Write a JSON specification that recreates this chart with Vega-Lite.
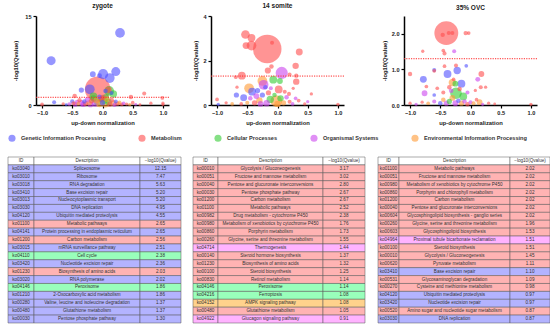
{
"$schema":"https://vega.github.io/schema/vega-lite/v6.json",
"padding":{"left":5,"right":3,"top":2,"bottom":1},
"config":{"font":"Liberation Sans","view":{"stroke":null},
"axis":{"grid":false,"labelOverlap":false,"domainColor":"#000","domainWidth":1.5,"tickColor":"#000","tickWidth":1.2,"tickSize":3,"labelFontSize":5.6,"labelFontWeight":"bold","labelColor":"#222","labelPadding":2,"titleFontSize":5.8,"titleFontWeight":"bold","titleColor":"#222","titlePadding":4},
"title":{"fontSize":6.5,"fontWeight":"bold","offset":5,"color":"#222"},
"legend":{"orient":"none","legendX":0,"legendY":118,"direction":"horizontal","columns":5,"columnPadding":32,"labelFontSize":5.6,"labelFontWeight":"bold","labelColor":"#333","symbolSize":50,"symbolOpacity":0.6,"symbolType":"circle","symbolStrokeWidth":0,"labelOffset":5}},
"datasets":{
"zyg":[
{"x":0.29,"y":12.15,"c":"G","n":70},{"x":-0.85,"y":7.47,"c":"G","n":60},{"x":0.22,"y":5.63,"c":"G","n":60},{"x":0.01,"y":5.2,"c":"G","n":75},{"x":-0.16,"y":5.2,"c":"G","n":25},{"x":-0.05,"y":4.95,"c":"G","n":18},{"x":0.12,"y":4.55,"c":"G","n":70},{"x":-0.08,"y":2.65,"c":"M","n":480},{"x":-0.21,"y":2.65,"c":"G","n":70},{"x":0.1,"y":2.56,"c":"M","n":30},{"x":-0.35,"y":2.51,"c":"G","n":20},{"x":0.11,"y":2.38,"c":"C","n":70},{"x":0.05,"y":2.36,"c":"G","n":15},{"x":0.69,"y":1.95,"c":"M","n":12},{"x":0.15,"y":2.02,"c":"G","n":12},{"x":0.18,"y":1.86,"c":"C","n":40},{"x":-0.46,"y":1.5,"c":"M","n":15},{"x":0.47,"y":1.35,"c":"M","n":14},{"x":0.99,"y":1.2,"c":"M","n":10},{"x":-0.05,"y":1.37,"c":"G","n":15},{"x":0.0,"y":1.3,"c":"M","n":20},{"x":-0.15,"y":1.46,"c":"C","n":45},{"x":0.05,"y":1.2,"c":"C","n":40},
{"x":-1.0,"y":0.1,"c":"M","n":10},{"x":-0.8,"y":0.45,"c":"G","n":12},{"x":-0.55,"y":0.15,"c":"O","n":10},{"x":-0.5,"y":0.6,"c":"G","n":14},{"x":-0.48,"y":0.3,"c":"M","n":12},{"x":-0.45,"y":0.1,"c":"O","n":18},{"x":-0.42,"y":0.5,"c":"O","n":15},{"x":-0.4,"y":0.2,"c":"E","n":12},{"x":-0.38,"y":0.8,"c":"M","n":14},{"x":-0.35,"y":0.35,"c":"O","n":25},{"x":-0.32,"y":0.1,"c":"O","n":20},{"x":-0.3,"y":0.6,"c":"G","n":15},{"x":-0.28,"y":0.2,"c":"M","n":18},{"x":-0.25,"y":0.9,"c":"O","n":20},{"x":-0.22,"y":0.4,"c":"E","n":22},{"x":-0.2,"y":0.1,"c":"O","n":25},{"x":-0.18,"y":0.7,"c":"M","n":20},{"x":-0.15,"y":1.1,"c":"C","n":30},{"x":-0.12,"y":0.3,"c":"O","n":35},{"x":-0.1,"y":0.8,"c":"E","n":25},{"x":-0.08,"y":0.5,"c":"C","n":40},{"x":-0.05,"y":0.15,"c":"E","n":30},{"x":-0.02,"y":1.0,"c":"M","n":25},{"x":0.0,"y":0.4,"c":"G","n":20},{"x":0.02,"y":0.7,"c":"C","n":35},{"x":0.05,"y":0.2,"c":"E","n":40},{"x":0.07,"y":1.0,"c":"E","n":25},{"x":0.1,"y":0.5,"c":"C","n":30},{"x":0.12,"y":0.15,"c":"M","n":20},{"x":0.15,"y":0.8,"c":"M","n":18},{"x":0.18,"y":0.3,"c":"E","n":25},{"x":0.2,"y":0.05,"c":"O","n":15},{"x":0.22,"y":0.6,"c":"G","n":12},{"x":0.25,"y":0.2,"c":"M","n":15},{"x":0.28,"y":0.4,"c":"E","n":12},{"x":0.32,"y":0.1,"c":"M","n":10},{"x":0.35,"y":0.3,"c":"O","n":10},{"x":0.4,"y":0.15,"c":"M","n":8},{"x":0.45,"y":0.05,"c":"E","n":8},{"x":0.5,"y":0.4,"c":"M","n":10},{"x":0.55,"y":0.1,"c":"O","n":6},{"x":0.62,"y":0.05,"c":"M","n":6},{"x":0.8,"y":0.3,"c":"M","n":8},{"x":1.0,"y":0.3,"c":"M","n":8},{"x":1.0,"y":0.05,"c":"M","n":6},{"x":-0.6,"y":0.05,"c":"G","n":6},{"x":-0.65,"y":0.2,"c":"M","n":8}
],
"som":[
{"x":-0.53,"y":3.17,"c":"M","n":55},{"x":-0.43,"y":3.02,"c":"M","n":45},{"x":-0.52,"y":2.67,"c":"M","n":35},{"x":-0.43,"y":2.67,"c":"M","n":70},{"x":-0.09,"y":2.8,"c":"M","n":12},{"x":-0.17,"y":2.52,"c":"M","n":600},{"x":0.36,"y":2.38,"c":"M","n":35},{"x":0.3,"y":1.76,"c":"M","n":30},{"x":-0.1,"y":1.73,"c":"M","n":15},{"x":-0.16,"y":1.55,"c":"M","n":28},{"x":0.07,"y":1.44,"c":"O","n":110},{"x":0.2,"y":1.37,"c":"M","n":12},{"x":0.31,"y":1.32,"c":"M","n":14},{"x":-0.59,"y":1.32,"c":"M","n":45},{"x":-0.69,"y":1.25,"c":"M","n":10},{"x":-0.07,"y":1.14,"c":"C","n":45},{"x":0.04,"y":1.08,"c":"C","n":25},{"x":-0.25,"y":1.08,"c":"E","n":70},{"x":0.31,"y":1.05,"c":"M","n":30},{"x":-0.23,"y":0.91,"c":"O","n":70},{"x":0.02,"y":0.7,"c":"M","n":45},{"x":-0.47,"y":0.75,"c":"E","n":70},{"x":-0.42,"y":0.6,"c":"G","n":45},{"x":-0.2,"y":0.8,"c":"G","n":15},{"x":-0.11,"y":0.75,"c":"O","n":12},{"x":-0.67,"y":0.8,"c":"M","n":8},{"x":0.26,"y":0.75,"c":"M","n":8},{"x":0.19,"y":0.5,"c":"M","n":12},{"x":0.56,"y":0.5,"c":"M","n":8},{"x":-0.56,"y":0.33,"c":"G","n":35},{"x":-0.68,"y":0.45,"c":"G","n":20},{"x":-1.0,"y":0.25,"c":"M","n":10},{"x":-0.98,"y":0.03,"c":"G","n":8},{"x":1.0,"y":0.03,"c":"M","n":8},
{"x":-0.02,"y":0.18,"c":"E","n":100},{"x":-0.12,"y":0.25,"c":"C","n":40},{"x":0.05,"y":0.3,"c":"C","n":30},{"x":-0.3,"y":0.2,"c":"E","n":30},{"x":-0.35,"y":0.4,"c":"O","n":25},{"x":-0.38,"y":0.1,"c":"M","n":20},{"x":-0.25,"y":0.45,"c":"G","n":20},{"x":-0.28,"y":0.05,"c":"O","n":25},{"x":0.1,"y":0.1,"c":"E","n":20},{"x":0.15,"y":0.35,"c":"O","n":15},{"x":0.2,"y":0.15,"c":"M","n":12},{"x":0.25,"y":0.05,"c":"O","n":10},{"x":0.35,"y":0.2,"c":"M","n":10},{"x":0.45,"y":0.05,"c":"M","n":8},{"x":0.5,"y":0.15,"c":"O","n":8},{"x":-0.5,"y":0.1,"c":"E","n":12},{"x":-0.6,"y":0.05,"c":"M","n":10},{"x":-0.75,"y":0.05,"c":"E","n":10},{"x":-0.85,"y":0.1,"c":"M","n":8},{"x":-0.15,"y":0.55,"c":"M","n":20},{"x":-0.05,"y":0.45,"c":"C","n":15},{"x":0.12,"y":0.6,"c":"M","n":12},{"x":-0.45,"y":0.3,"c":"O","n":15},{"x":-0.33,"y":0.65,"c":"G","n":20},{"x":0.3,"y":0.3,"c":"O","n":10},{"x":0.0,"y":0.05,"c":"E","n":30},{"x":-0.18,"y":0.08,"c":"O","n":30}
],
"ovc":[
{"x":-0.4,"y":2.02,"c":"M","n":420},{"x":-0.46,"y":1.97,"c":"M","n":14},{"x":-0.36,"y":2.02,"c":"M","n":12},{"x":-0.3,"y":2.02,"c":"M","n":12},{"x":-0.08,"y":2.02,"c":"M","n":14},{"x":-0.03,"y":2.02,"c":"M","n":10},{"x":-0.79,"y":1.51,"c":"M","n":8},{"x":-0.45,"y":1.53,"c":"M","n":10},{"x":-0.43,"y":1.45,"c":"M","n":12},{"x":-0.27,"y":1.51,"c":"O","n":12},{"x":-0.24,"y":1.11,"c":"M","n":12},{"x":-0.07,"y":1.1,"c":"G","n":10},{"x":-0.43,"y":1.09,"c":"M","n":10},{"x":-0.6,"y":0.98,"c":"G","n":12},{"x":-0.6,"y":0.96,"c":"M","n":10},{"x":-0.22,"y":0.97,"c":"G","n":40},{"x":-0.38,"y":0.87,"c":"G","n":45},{"x":0.18,"y":0.87,"c":"M","n":25},{"x":-1.0,"y":0.87,"c":"M","n":14},{"x":0.12,"y":0.72,"c":"O","n":18},{"x":-0.78,"y":0.72,"c":"G","n":35},{"x":-0.28,"y":0.72,"c":"M","n":10},{"x":-0.3,"y":0.63,"c":"E","n":40},{"x":-0.25,"y":0.6,"c":"C","n":25},{"x":-0.15,"y":0.6,"c":"G","n":45},{"x":-0.73,"y":0.52,"c":"M","n":10},{"x":0.25,"y":0.5,"c":"M","n":8},{"x":-0.24,"y":0.33,"c":"C","n":100},{"x":-0.12,"y":0.24,"c":"C","n":45},{"x":-0.76,"y":0.33,"c":"O","n":25},{"x":-0.6,"y":0.28,"c":"G","n":10},{"x":-0.55,"y":0.47,"c":"M","n":10},{"x":0.08,"y":0.41,"c":"M","n":8},{"x":-0.35,"y":0.5,"c":"M","n":15},{"x":-0.32,"y":0.4,"c":"O","n":15},{"x":-0.45,"y":0.35,"c":"M","n":12},{"x":-0.05,"y":0.35,"c":"O","n":12},{"x":-0.18,"y":0.45,"c":"M","n":15},{"x":0.17,"y":0.5,"c":"M","n":12},
{"x":-1.0,"y":0.05,"c":"M","n":8},{"x":-0.9,"y":0.02,"c":"O","n":8},{"x":-0.8,"y":0.08,"c":"M","n":8},{"x":-0.7,"y":0.05,"c":"E","n":10},{"x":-0.6,"y":0.1,"c":"O","n":12},{"x":-0.5,"y":0.05,"c":"G","n":15},{"x":-0.45,"y":0.15,"c":"E","n":15},{"x":-0.4,"y":0.05,"c":"O","n":20},{"x":-0.35,"y":0.1,"c":"C","n":20},{"x":-0.3,"y":0.2,"c":"E","n":25},{"x":-0.25,"y":0.05,"c":"O","n":25},{"x":-0.2,"y":0.12,"c":"G","n":15},{"x":-0.15,"y":0.05,"c":"E","n":20},{"x":-0.1,"y":0.1,"c":"O","n":15},{"x":-0.05,"y":0.02,"c":"M","n":15},{"x":0.0,"y":0.08,"c":"O","n":12},{"x":0.05,"y":0.05,"c":"E","n":12},{"x":0.1,"y":0.15,"c":"M","n":10},{"x":0.15,"y":0.08,"c":"E","n":25},{"x":0.2,"y":0.02,"c":"O","n":8},{"x":0.3,"y":0.05,"c":"M","n":8},{"x":0.4,"y":0.03,"c":"M","n":6},{"x":1.0,"y":0.02,"c":"M","n":8}
],
"tbl":[
{"t":"z","r":0,"id":"ID","d":"Description","v":"−log10(Qvalue)","c":"H"},
{"t":"z","r":1,"id":"ko03040","d":"Spliceosome","v":"12.15","c":"G"},
{"t":"z","r":2,"id":"ko03010","d":"Ribosome","v":"7.47","c":"G"},
{"t":"z","r":3,"id":"ko03018","d":"RNA degradation","v":"5.63","c":"G"},
{"t":"z","r":4,"id":"ko03410","d":"Base excision repair","v":"5.20","c":"G"},
{"t":"z","r":5,"id":"ko03013","d":"Nucleocytoplasmic transport","v":"5.20","c":"G"},
{"t":"z","r":6,"id":"ko03030","d":"DNA replication","v":"4.95","c":"G"},
{"t":"z","r":7,"id":"ko04120","d":"Ubiquitin mediated proteolysis","v":"4.55","c":"G"},
{"t":"z","r":8,"id":"ko01100","d":"Metabolic pathways","v":"2.65","c":"M"},
{"t":"z","r":9,"id":"ko04141","d":"Protein processing in endoplasmic reticulum","v":"2.65","c":"G"},
{"t":"z","r":10,"id":"ko01200","d":"Carbon metabolism","v":"2.56","c":"M"},
{"t":"z","r":11,"id":"ko03015","d":"mRNA surveillance pathway","v":"2.51","c":"G"},
{"t":"z","r":12,"id":"ko04110","d":"Cell cycle","v":"2.38","c":"C"},
{"t":"z","r":13,"id":"ko03420","d":"Nucleotide excision repair","v":"2.36","c":"G"},
{"t":"z","r":14,"id":"ko01230","d":"Biosynthesis of amino acids","v":"2.03","c":"M"},
{"t":"z","r":15,"id":"ko03020","d":"RNA polymerase","v":"2.02","c":"G"},
{"t":"z","r":16,"id":"ko04146","d":"Peroxisome","v":"1.86","c":"C"},
{"t":"z","r":17,"id":"ko01210","d":"2-Oxocarboxylic acid metabolism","v":"1.86","c":"G"},
{"t":"z","r":18,"id":"ko00280","d":"Valine, leucine and isoleucine degradation","v":"1.37","c":"G"},
{"t":"z","r":19,"id":"ko00480","d":"Glutathione metabolism","v":"1.37","c":"G"},
{"t":"z","r":20,"id":"ko00030","d":"Pentose phosphate pathway","v":"1.30","c":"G"},
{"t":"s","r":0,"id":"ID","d":"Description","v":"−log10(Qvalue)","c":"H"},
{"t":"s","r":1,"id":"ko00010","d":"Glycolysis / Gluconeogenesis","v":"3.17","c":"M"},
{"t":"s","r":2,"id":"ko00051","d":"Fructose and mannose metabolism","v":"3.02","c":"M"},
{"t":"s","r":3,"id":"ko00040","d":"Pentose and glucuronate interconversions","v":"2.80","c":"M"},
{"t":"s","r":4,"id":"ko00030","d":"Pentose phosphate pathway","v":"2.67","c":"M"},
{"t":"s","r":5,"id":"ko01200","d":"Carbon metabolism","v":"2.67","c":"M"},
{"t":"s","r":6,"id":"ko01100","d":"Metabolic pathways","v":"2.52","c":"M"},
{"t":"s","r":7,"id":"ko00982","d":"Drug metabolism - cytochrome P450","v":"2.38","c":"M"},
{"t":"s","r":8,"id":"ko00980","d":"Metabolism of xenobiotics by cytochrome P450","v":"1.76","c":"M"},
{"t":"s","r":9,"id":"ko00860","d":"Porphyrin metabolism","v":"1.73","c":"M"},
{"t":"s","r":10,"id":"ko00260","d":"Glycine, serine and threonine metabolism","v":"1.55","c":"M"},
{"t":"s","r":11,"id":"ko04714","d":"Thermogenesis","v":"1.44","c":"O"},
{"t":"s","r":12,"id":"ko00140","d":"Steroid hormone biosynthesis","v":"1.37","c":"M"},
{"t":"s","r":13,"id":"ko01230","d":"Biosynthesis of amino acids","v":"1.32","c":"M"},
{"t":"s","r":14,"id":"ko00100","d":"Steroid biosynthesis","v":"1.25","c":"M"},
{"t":"s","r":15,"id":"ko00830","d":"Retinol metabolism","v":"1.14","c":"M"},
{"t":"s","r":16,"id":"ko04146","d":"Peroxisome","v":"1.14","c":"C"},
{"t":"s","r":17,"id":"ko04216","d":"Ferroptosis","v":"1.08","c":"C"},
{"t":"s","r":18,"id":"ko04152","d":"AMPK signaling pathway","v":"1.08","c":"E"},
{"t":"s","r":19,"id":"ko00480","d":"Glutathione metabolism","v":"1.05","c":"M"},
{"t":"s","r":20,"id":"ko04922","d":"Glucagon signaling pathway","v":"0.91","c":"O"},
{"t":"o","r":0,"id":"ID","d":"Description","v":"−log10(Qvalue)","c":"H"},
{"t":"o","r":1,"id":"ko01100","d":"Metabolic pathways","v":"2.02","c":"M"},
{"t":"o","r":2,"id":"ko00051","d":"Fructose and mannose metabolism","v":"2.02","c":"M"},
{"t":"o","r":3,"id":"ko00980","d":"Metabolism of xenobiotics by cytochrome P450","v":"2.02","c":"M"},
{"t":"o","r":4,"id":"ko00860","d":"Porphyrin and chlorophyll metabolism","v":"2.02","c":"M"},
{"t":"o","r":5,"id":"ko01200","d":"Carbon metabolism","v":"2.02","c":"M"},
{"t":"o","r":6,"id":"ko00040","d":"Pentose and glucuronate interconversions","v":"2.02","c":"M"},
{"t":"o","r":7,"id":"ko00604","d":"Glycosphingolipid biosynthesis - ganglio series","v":"2.02","c":"M"},
{"t":"o","r":8,"id":"ko00260","d":"Glycine, serine and threonine metabolism","v":"1.96","c":"M"},
{"t":"o","r":9,"id":"ko00603","d":"Glycosphingolipid biosynthesis","v":"1.53","c":"M"},
{"t":"o","r":10,"id":"ko04964","d":"Proximal tubule bicarbonate reclamation","v":"1.51","c":"O"},
{"t":"o","r":11,"id":"ko00100","d":"Steroid biosynthesis","v":"1.51","c":"M"},
{"t":"o","r":12,"id":"ko00010","d":"Glycolysis / Gluconeogenesis","v":"1.45","c":"M"},
{"t":"o","r":13,"id":"ko00620","d":"Pyruvate metabolism","v":"1.11","c":"M"},
{"t":"o","r":14,"id":"ko03410","d":"Base excision repair","v":"1.10","c":"G"},
{"t":"o","r":15,"id":"ko00531","d":"Glycosaminoglycan degradation","v":"1.09","c":"M"},
{"t":"o","r":16,"id":"ko00270","d":"Cysteine and methionine metabolism","v":"0.98","c":"M"},
{"t":"o","r":17,"id":"ko04120","d":"Ubiquitin mediated proteolysis","v":"0.97","c":"G"},
{"t":"o","r":18,"id":"ko03420","d":"Nucleotide excision repair","v":"0.97","c":"G"},
{"t":"o","r":19,"id":"ko00520","d":"Amino sugar and nucleotide sugar metabolism","v":"0.87","c":"M"},
{"t":"o","r":20,"id":"ko03030","d":"DNA replication","v":"0.87","c":"G"}
]},
"vconcat":[
{"hconcat":[
 {"hconcat":[
  {"hconcat":[
   {"width":1,"height":89,"data":{"values":[{}]},"mark":{"type":"point","opacity":0},"encoding":{}},
   {"width":133,"height":89,"title":"zygote","data":{"name":"zyg"},
   "layer":[
    {"mark":{"type":"circle","opacity":0.6},
     "encoding":{
      "x":{"field":"x","type":"quantitative","scale":{"domain":[-1.1,1.1],"nice":false},"axis":{"values":[-1,-0.5,0,0.5,1],"format":".1f","title":"up-down normalization"}},
      "y":{"field":"y","type":"quantitative","scale":{"domain":[0,15],"nice":false},"axis":{"values":[0,5,10,15],"title":"-log10(Qvalue)","titlePadding":6}},
      "color":{"field":"c","type":"nominal","scale":{"domain":["G","M","C","O","E"],"range":["#5050ff","#ff4d4d","#33cc33","#cc44ee","#ff9933"]},"legend":{"title":null,"labelExpr":"datum.label=='G'?'Genetic Information Processing':datum.label=='M'?'Metabolism':datum.label=='C'?'Cellular Processes':datum.label=='O'?'Organismal Systems':'Environmental Information Processing'"}},
      "size":{"field":"n","type":"quantitative","scale":{"type":"linear","domain":[0,700],"range":[0,950]},"legend":null},
      "order":{"field":"n","sort":"descending"}}},
    {"data":{"values":[{}]},"mark":{"type":"rule","color":"#ff2a2a","strokeDash":[1.2,1.2],"strokeWidth":1},"encoding":{"y":{"datum":1.3}}}
   ]}
  ],"spacing":0},
  {"width":133,"height":89,"title":"14 somite","data":{"name":"som"},
   "layer":[
    {"mark":{"type":"circle","opacity":0.6},
     "encoding":{
      "x":{"field":"x","type":"quantitative","scale":{"domain":[-1.1,1.1],"nice":false},"axis":{"values":[-1,-0.5,0,0.5,1],"format":".1f","title":"up-down normalization"}},
      "y":{"field":"y","type":"quantitative","scale":{"domain":[0,4],"nice":false},"axis":{"values":[0,1,2,3,4],"title":"-log10(Qvalue)"}},
      "color":{"field":"c","type":"nominal"},
      "size":{"field":"n","type":"quantitative","legend":null},
      "order":{"field":"n","sort":"descending"}}},
    {"data":{"values":[{}]},"mark":{"type":"rule","color":"#ff2a2a","strokeDash":[1.2,1.2],"strokeWidth":1},"encoding":{"y":{"datum":1.3}}}
   ]}
 ],"spacing":22},
 {"width":133,"height":89,"title":"35% OVC","data":{"name":"ovc"},
   "layer":[
    {"mark":{"type":"circle","opacity":0.6},
     "encoding":{
      "x":{"field":"x","type":"quantitative","scale":{"domain":[-1.1,1.1],"nice":false},"axis":{"values":[-1,-0.5,0,0.5,1],"format":".1f","title":"up-down normalization"}},
      "y":{"field":"y","type":"quantitative","scale":{"domain":[0,2.5],"nice":false},"axis":{"values":[0,0.5,1,1.5,2,2.5],"format":".1f","title":"-log10(Qvalue)"}},
      "color":{"field":"c","type":"nominal"},
      "size":{"field":"n","type":"quantitative","legend":null},
      "order":{"field":"n","sort":"descending"}}},
    {"data":{"values":[{}]},"mark":{"type":"rule","color":"#ff2a2a","strokeDash":[1.2,1.2],"strokeWidth":1},"encoding":{"y":{"datum":1.3}}}
   ]}
],"spacing":36},
{"hconcat":[
  {"width":26,"height":166,"data":{"name":"tbl"},"transform":[{"filter":"datum.t=='z'"}],
   "encoding":{"y":{"field":"r","type":"ordinal","axis":null,"scale":{"paddingInner":0,"paddingOuter":0}},"x":{"field":"t","type":"nominal","axis":null,"scale":{"paddingInner":0,"paddingOuter":0}}},
   "layer":[{"mark":{"type":"rect","stroke":"#555","strokeWidth":0.5},"encoding":{"fill":{"field":"c","type":"nominal","legend":null,"scale":{"domain":["H","G","M","C","O","E"],"range":["#ffffff","#b3b3ff","#ffb3b3","#99ffbb","#ffb3ff","#ffd28c"]}}}},
            {"mark":{"type":"text","fontSize":4.6,"color":"#333"},"encoding":{"text":{"field":"id"}}}]},
  {"width":106,"height":166,"data":{"name":"tbl"},"transform":[{"filter":"datum.t=='z'"}],
   "encoding":{"y":{"field":"r","type":"ordinal","axis":null,"scale":{"paddingInner":0,"paddingOuter":0}},"x":{"field":"t","type":"nominal","axis":null,"scale":{"paddingInner":0,"paddingOuter":0}}},
   "layer":[{"mark":{"type":"rect","stroke":"#555","strokeWidth":0.5},"encoding":{"fill":{"field":"c","type":"nominal","legend":null}}},
            {"mark":{"type":"text","fontSize":4.6,"color":"#333"},"encoding":{"text":{"field":"d"}}}]},
  {"width":41,"height":166,"data":{"name":"tbl"},"transform":[{"filter":"datum.t=='z'"}],
   "encoding":{"y":{"field":"r","type":"ordinal","axis":null,"scale":{"paddingInner":0,"paddingOuter":0}},"x":{"field":"t","type":"nominal","axis":null,"scale":{"paddingInner":0,"paddingOuter":0}}},
   "layer":[{"mark":{"type":"rect","stroke":"#555","strokeWidth":0.5},"encoding":{"fill":{"field":"c","type":"nominal","legend":null}}},
            {"mark":{"type":"text","fontSize":4.6,"color":"#333"},"encoding":{"text":{"field":"v"}}}]},
  {"width":12,"height":166,"data":{"values":[{}]},"mark":{"type":"point","opacity":0},"encoding":{}},
  {"width":25,"height":166,"data":{"name":"tbl"},"transform":[{"filter":"datum.t=='s'"}],
   "encoding":{"y":{"field":"r","type":"ordinal","axis":null,"scale":{"paddingInner":0,"paddingOuter":0}},"x":{"field":"t","type":"nominal","axis":null,"scale":{"paddingInner":0,"paddingOuter":0}}},
   "layer":[{"mark":{"type":"rect","stroke":"#555","strokeWidth":0.5},"encoding":{"fill":{"field":"c","type":"nominal","legend":null}}},
            {"mark":{"type":"text","fontSize":4.6,"color":"#333"},"encoding":{"text":{"field":"id"}}}]},
  {"width":105,"height":166,"data":{"name":"tbl"},"transform":[{"filter":"datum.t=='s'"}],
   "encoding":{"y":{"field":"r","type":"ordinal","axis":null,"scale":{"paddingInner":0,"paddingOuter":0}},"x":{"field":"t","type":"nominal","axis":null,"scale":{"paddingInner":0,"paddingOuter":0}}},
   "layer":[{"mark":{"type":"rect","stroke":"#555","strokeWidth":0.5},"encoding":{"fill":{"field":"c","type":"nominal","legend":null}}},
            {"mark":{"type":"text","fontSize":4.6,"color":"#333"},"encoding":{"text":{"field":"d"}}}]},
  {"width":42,"height":166,"data":{"name":"tbl"},"transform":[{"filter":"datum.t=='s'"}],
   "encoding":{"y":{"field":"r","type":"ordinal","axis":null,"scale":{"paddingInner":0,"paddingOuter":0}},"x":{"field":"t","type":"nominal","axis":null,"scale":{"paddingInner":0,"paddingOuter":0}}},
   "layer":[{"mark":{"type":"rect","stroke":"#555","strokeWidth":0.5},"encoding":{"fill":{"field":"c","type":"nominal","legend":null}}},
            {"mark":{"type":"text","fontSize":4.6,"color":"#333"},"encoding":{"text":{"field":"v"}}}]},
  {"width":13,"height":166,"data":{"values":[{}]},"mark":{"type":"point","opacity":0},"encoding":{}},
  {"width":21,"height":166,"data":{"name":"tbl"},"transform":[{"filter":"datum.t=='o'"}],
   "encoding":{"y":{"field":"r","type":"ordinal","axis":null,"scale":{"paddingInner":0,"paddingOuter":0}},"x":{"field":"t","type":"nominal","axis":null,"scale":{"paddingInner":0,"paddingOuter":0}}},
   "layer":[{"mark":{"type":"rect","stroke":"#555","strokeWidth":0.5},"encoding":{"fill":{"field":"c","type":"nominal","legend":null}}},
            {"mark":{"type":"text","fontSize":4.6,"color":"#333"},"encoding":{"text":{"field":"id"}}}]},
  {"width":111,"height":166,"data":{"name":"tbl"},"transform":[{"filter":"datum.t=='o'"}],
   "encoding":{"y":{"field":"r","type":"ordinal","axis":null,"scale":{"paddingInner":0,"paddingOuter":0}},"x":{"field":"t","type":"nominal","axis":null,"scale":{"paddingInner":0,"paddingOuter":0}}},
   "layer":[{"mark":{"type":"rect","stroke":"#555","strokeWidth":0.5},"encoding":{"fill":{"field":"c","type":"nominal","legend":null}}},
            {"mark":{"type":"text","fontSize":4.6,"color":"#333"},"encoding":{"text":{"field":"d"}}}]},
  {"width":40,"height":166,"data":{"name":"tbl"},"transform":[{"filter":"datum.t=='o'"}],
   "encoding":{"y":{"field":"r","type":"ordinal","axis":null,"scale":{"paddingInner":0,"paddingOuter":0}},"x":{"field":"t","type":"nominal","axis":null,"scale":{"paddingInner":0,"paddingOuter":0}}},
   "layer":[{"mark":{"type":"rect","stroke":"#555","strokeWidth":0.5},"encoding":{"fill":{"field":"c","type":"nominal","legend":null}}},
            {"mark":{"type":"text","fontSize":4.6,"color":"#333"},"encoding":{"text":{"field":"v"}}}]}
],"spacing":0,"bounds":"flush"}
],"spacing":30}
